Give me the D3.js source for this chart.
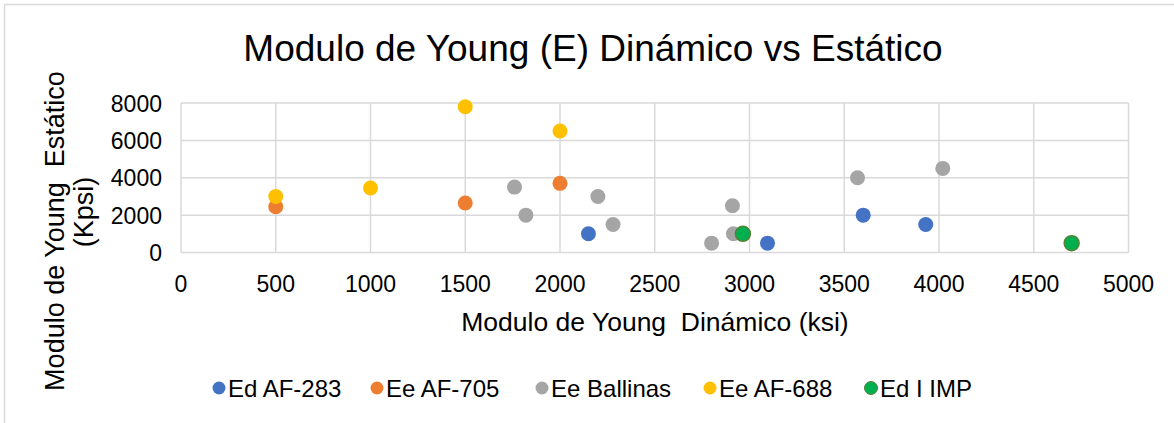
<!DOCTYPE html>
<html lang="es">
<head>
<meta charset="UTF-8">
<title>Modulo de Young</title>
<script src="https://d3js.org/d3.v7.min.js"></script>
<style>
body { margin: 0; background: #fff; }
svg { font-family: "Liberation Sans", Arial, sans-serif; display: block; }
.grid line { stroke: #d9d9d9; stroke-width: 1.5; }
.tick-label { font-size: 23px; fill: #000; }
</style>
</head>
<body>
<div id="chart"></div>
<script>
// chart data
const seriesNames = ["Ed AF-283", "Ee AF-705", "Ee Ballinas", "Ee AF-688", "Ed I IMP"];
const seriesColors = ["#4472C4", "#ED7D31", "#A5A5A5", "#FFC000", "#00B050"];
const edAF283 = [[2150, 1000], [3095, 500], [3600, 2000], [3930, 1500]];
const eeAF705 = [[500, 2450], [1500, 2650], [2000, 3700]];
const eeBallinas = [[1760, 3500], [1820, 2000], [2200, 3000], [2280, 1500], [2800, 500],
                    [2910, 2500], [2915, 1000], [3570, 4000], [4020, 4500]];
const eeAF688 = [[500, 3000], [1000, 3450], [1500, 7800], [2000, 6500]];
const edIIMP = [[2965, 1000], [4700, 500]];
const xTicks = [0, 500, 1000, 1500, 2000, 2500, 3000, 3500, 4000, 4500, 5000];
const yTicks = [0, 2000, 4000, 6000, 8000];

const allSeries = [edAF283, eeAF705, eeBallinas, eeAF688, edIIMP];

const width = 1174, height = 423;
const svg = d3.select("#chart").append("svg")
    .attr("width", width)
    .attr("height", height);

// outer chart border (only top/left visible)
svg.append("rect")
    .attr("x", 4.5).attr("y", 4.5)
    .attr("width", width + 10).attr("height", height + 10)
    .attr("fill", "none")
    .attr("stroke", "#d9d9d9")
    .attr("stroke-width", 1.5);

const x = d3.scaleLinear().domain([0, 5000]).range([181, 1128.5]);
const y = d3.scaleLinear().domain([0, 8000]).range([252.5, 103]);

// grid
const grid = svg.append("g").attr("class", "grid");
grid.selectAll(".v").data(xTicks).join("line")
    .attr("x1", d => x(d)).attr("x2", d => x(d))
    .attr("y1", y(8000)).attr("y2", y(0));
grid.selectAll(".h").data(yTicks).join("line")
    .attr("x1", x(0)).attr("x2", x(5000))
    .attr("y1", d => y(d)).attr("y2", d => y(d));

// tick labels
svg.append("g").selectAll("text").data(xTicks).join("text")
    .attr("class", "tick-label")
    .attr("x", d => x(d))
    .attr("y", 292)
    .attr("text-anchor", "middle")
    .text(d => d);
svg.append("g").selectAll("text").data(yTicks).join("text")
    .attr("class", "tick-label")
    .attr("x", 162)
    .attr("y", d => y(d) + 8.5)
    .attr("text-anchor", "end")
    .text(d => d);

// points
allSeries.forEach((pts, i) => {
    svg.append("g").selectAll("circle").data(pts).join("circle")
        .attr("cx", d => x(d[0]))
        .attr("cy", d => y(d[1]))
        .attr("r", 7.5)
        .attr("fill", seriesColors[i])
        .attr("stroke", i === 4 ? "#548235" : "none")
        .attr("stroke-width", 1.5);
});

// title
svg.append("text")
    .attr("x", 593).attr("y", 61)
    .attr("text-anchor", "middle")
    .style("font-size", "37px")
    .text("Modulo de Young (E) Dinámico vs Estático");

// axis titles
svg.append("text")
    .attr("x", 655).attr("y", 331)
    .attr("text-anchor", "middle")
    .style("font-size", "26.5px")
    .style("white-space", "pre")
    .text("Modulo de Young  Dinámico (ksi)");

svg.append("text")
    .attr("transform", "translate(64,231) rotate(-90)")
    .attr("text-anchor", "middle")
    .style("font-size", "27px")
    .style("white-space", "pre")
    .text("Modulo de Young  Estático");
svg.append("text")
    .attr("transform", "translate(93,212) rotate(-90)")
    .attr("text-anchor", "middle")
    .style("font-size", "27px")
    .text("(Kpsi)");

// legend
const legendX = [219, 377, 542, 710, 871];
const lg = svg.append("g").selectAll("g").data(seriesNames).join("g")
    .attr("transform", (d, i) => `translate(${legendX[i]},388)`);
lg.append("circle")
    .attr("r", 6.5)
    .attr("fill", (d, i) => seriesColors[i])
    .attr("stroke", (d, i) => i === 4 ? "#548235" : "none");
lg.append("text")
    .attr("x", 9).attr("y", 8.5)
    .style("font-size", "24px")
    .text(d => d);
</script>
</body>
</html>
